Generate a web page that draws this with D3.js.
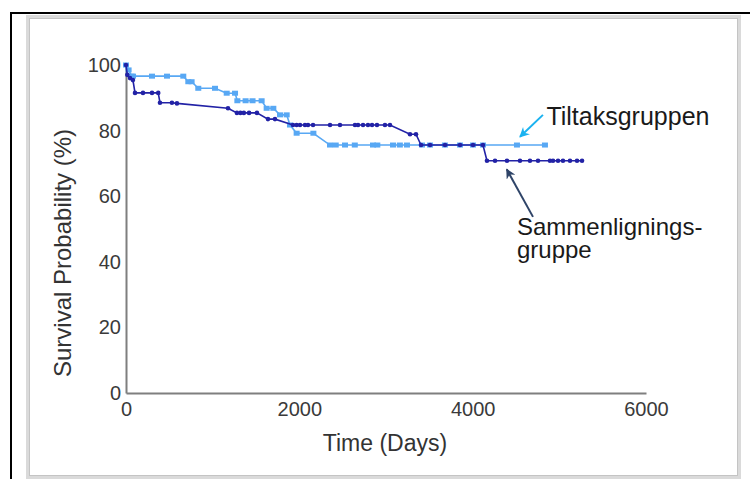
<!DOCTYPE html>
<html>
<head>
<meta charset="utf-8">
<script src="https://cdn.jsdelivr.net/npm/d3@7"></script>
<style>
  body { margin: 0; background: #fff; }
  svg { display: block; font-family: "Liberation Sans", Arial, sans-serif; }
  .tick text { fill: #3a3a3a; font-size: 20px; }
  .axis-title { fill: #333; font-size: 23px; }
  .note { fill: #1a1a1a; font-size: 24px; }
</style>
</head>
<body>
<svg id="chart"></svg>
<script>
// Kaplan-Meier points [days, survival %], censor marks included
const tiltaksgruppen = [
  [0, 100], [30, 98.5], [65, 96.6], [81, 96.6], [300, 96.6], [473, 96.6], [661, 96.6],
  [719, 94.9], [757, 94.9], [834, 92.9], [1027, 92.9], [1162, 91.4], [1258, 91.4],
  [1285, 89.1], [1380, 89.1], [1460, 89.1], [1565, 89.1], [1623, 86.8], [1700, 86.8],
  [1777, 84.8], [1854, 84.8], [1892, 81.7], [1969, 79.2], [2162, 79.2], [2354, 75.6],
  [2420, 75.6], [2527, 75.6], [2640, 75.6], [2850, 75.6], [2900, 75.6], [3081, 75.6],
  [3160, 75.6], [3242, 75.6], [3415, 75.6], [3508, 75.6], [3680, 75.6], [3854, 75.6],
  [4004, 75.6], [4119, 75.6], [4511, 75.6], [4834, 75.6]
];

const sammenligningsgruppe = [
  [0, 100], [15, 97], [46, 96], [80, 95.4], [104, 91.5], [196, 91.5], [300, 91.5],
  [372, 91.5], [392, 88.5], [530, 88.5], [588, 88.3], [1177, 86.8], [1280, 85.4],
  [1320, 85.4], [1360, 85.4], [1420, 85.4], [1511, 85.4], [1638, 83.5], [1719, 83.5],
  [1927, 81.7], [1969, 81.7], [2008, 81.7], [2065, 81.7], [2100, 81.7], [2158, 81.7],
  [2354, 81.7], [2469, 81.7], [2642, 81.7], [2677, 81.7], [2735, 81.7], [2792, 81.7],
  [2839, 81.7], [2896, 81.7], [2988, 81.7], [3046, 81.7], [3277, 78.9], [3346, 78.9],
  [3404, 75.6], [3508, 75.6], [3681, 75.6], [3854, 75.6], [4004, 75.6], [4119, 75.6],
  [4165, 70.8], [4258, 70.8], [4396, 70.8], [4546, 70.8], [4661, 70.8], [4754, 70.8],
  [4892, 70.8], [4927, 70.8], [4985, 70.8], [5042, 70.8], [5123, 70.8], [5204, 70.8],
  [5262, 70.8]
];

const xTicks = [0, 2000, 4000, 6000];
const yTicks = [0, 20, 40, 60, 80, 100];

// annotation anchors in data units: label lines, text pos, arrow start, arrow tip
const annotations = [
  { lines: ['Tiltaksgruppen'], size: 25, text: [4851, 81.7], from: [4811, 84.8], to: [4546, 78.1], color: '#1ab2f0' },
  { lines: ['Sammenlignings-', 'gruppe'], size: 24, text: [4511, 48.2], from: [4696, 53.7], to: [4393, 68.2], color: '#2f4468' }
];

const width = 750, height = 479;
const margin = { top: 65, right: 104, bottom: 86, left: 126 };

const svg = d3.select('#chart')
  .attr('width', width)
  .attr('height', height);

svg.append('rect').attr('width', width).attr('height', height).attr('fill', '#fff');

// outer black frame (open to the right/bottom edge)
svg.append('path')
  .attr('d', `M11,${height} V13 H${width}`)
  .attr('fill', 'none')
  .attr('stroke', '#000')
  .attr('stroke-width', 2);

// grey panel frame
svg.append('rect')
  .attr('x', 28).attr('y', 17).attr('width', 711).attr('height', 460)
  .attr('fill', 'none').attr('stroke', '#dadada').attr('stroke-width', 4);
svg.append('rect')
  .attr('x', 29.5).attr('y', 18.5).attr('width', 708).attr('height', 457)
  .attr('fill', 'none').attr('stroke', '#c4c4c4').attr('stroke-width', 1);

const xScale = d3.scaleLinear().domain([0, 6000]).range([margin.left, width - margin.right]);
const yScale = d3.scaleLinear().domain([0, 100]).range([height - margin.bottom, margin.top]);

const xAxis = d3.axisBottom(xScale).tickValues(xTicks).tickFormat(d3.format('d'))
  .tickSize(0).tickPadding(9);
const yAxis = d3.axisLeft(yScale).tickValues(yTicks).tickFormat(d3.format('d'))
  .tickSize(0).tickPadding(5);

const xAxisG = svg.append('g')
  .attr('transform', `translate(0,${height - margin.bottom})`)
  .call(xAxis);
const yAxisG = svg.append('g')
  .attr('transform', `translate(${margin.left},0)`)
  .call(yAxis);

[xAxisG, yAxisG].forEach(g => {
  g.attr('font-family', null).attr('font-size', null);
  g.select('.domain').attr('stroke', '#7f7f7f').attr('stroke-width', 2);
});

svg.append('text')
  .attr('class', 'axis-title')
  .attr('x', 385).attr('y', 451)
  .attr('text-anchor', 'middle')
  .text('Time (Days)');

svg.append('text')
  .attr('class', 'axis-title')
  .attr('transform', 'translate(71,253) rotate(-90)')
  .attr('text-anchor', 'middle')
  .style('font-size', '24px')
  .text('Survival Probability (%)');

const line = d3.line()
  .x(d => xScale(d[0]))
  .y(d => yScale(d[1]));

const lightBlue = '#58a8f4';
const darkBlue = '#2222a6';

svg.append('path')
  .datum(tiltaksgruppen)
  .attr('d', line)
  .attr('fill', 'none')
  .attr('stroke', lightBlue)
  .attr('stroke-width', 1.6);

svg.selectAll('.sq')
  .data(tiltaksgruppen)
  .join('rect')
  .attr('class', 'sq')
  .attr('x', d => xScale(d[0]) - 3)
  .attr('y', d => yScale(d[1]) - 2.5)
  .attr('width', 6)
  .attr('height', 5)
  .attr('fill', lightBlue);

svg.append('path')
  .datum(sammenligningsgruppe)
  .attr('d', line)
  .attr('fill', 'none')
  .attr('stroke', darkBlue)
  .attr('stroke-width', 1.6);

svg.selectAll('.dot')
  .data(sammenligningsgruppe)
  .join('circle')
  .attr('class', 'dot')
  .attr('cx', d => xScale(d[0]))
  .attr('cy', d => yScale(d[1]))
  .attr('r', 2.3)
  .attr('fill', darkBlue);

// annotations
const defs = svg.append('defs');
annotations.forEach((a, i) => {
  defs.append('marker')
    .attr('id', 'arrow' + i)
    .attr('viewBox', '0 0 10 10')
    .attr('refX', 9).attr('refY', 5)
    .attr('markerWidth', 5).attr('markerHeight', 5)
    .attr('orient', 'auto')
    .append('path')
    .attr('d', 'M0,0 L10,5 L0,10 L3,5 Z')
    .attr('fill', a.color);

  svg.append('line')
    .attr('x1', xScale(a.from[0])).attr('y1', yScale(a.from[1]))
    .attr('x2', xScale(a.to[0])).attr('y2', yScale(a.to[1]))
    .attr('stroke', a.color)
    .attr('stroke-width', 2)
    .attr('marker-end', `url(#arrow${i})`);

  const t = svg.append('text')
    .attr('class', 'note')
    .style('font-size', a.size + 'px')
    .attr('x', xScale(a.text[0]))
    .attr('y', yScale(a.text[1]));
  a.lines.forEach((l, j) => {
    t.append('tspan')
      .attr('x', xScale(a.text[0]))
      .attr('dy', j === 0 ? 0 : 23)
      .text(l);
  });
});
</script>
</body>
</html>
